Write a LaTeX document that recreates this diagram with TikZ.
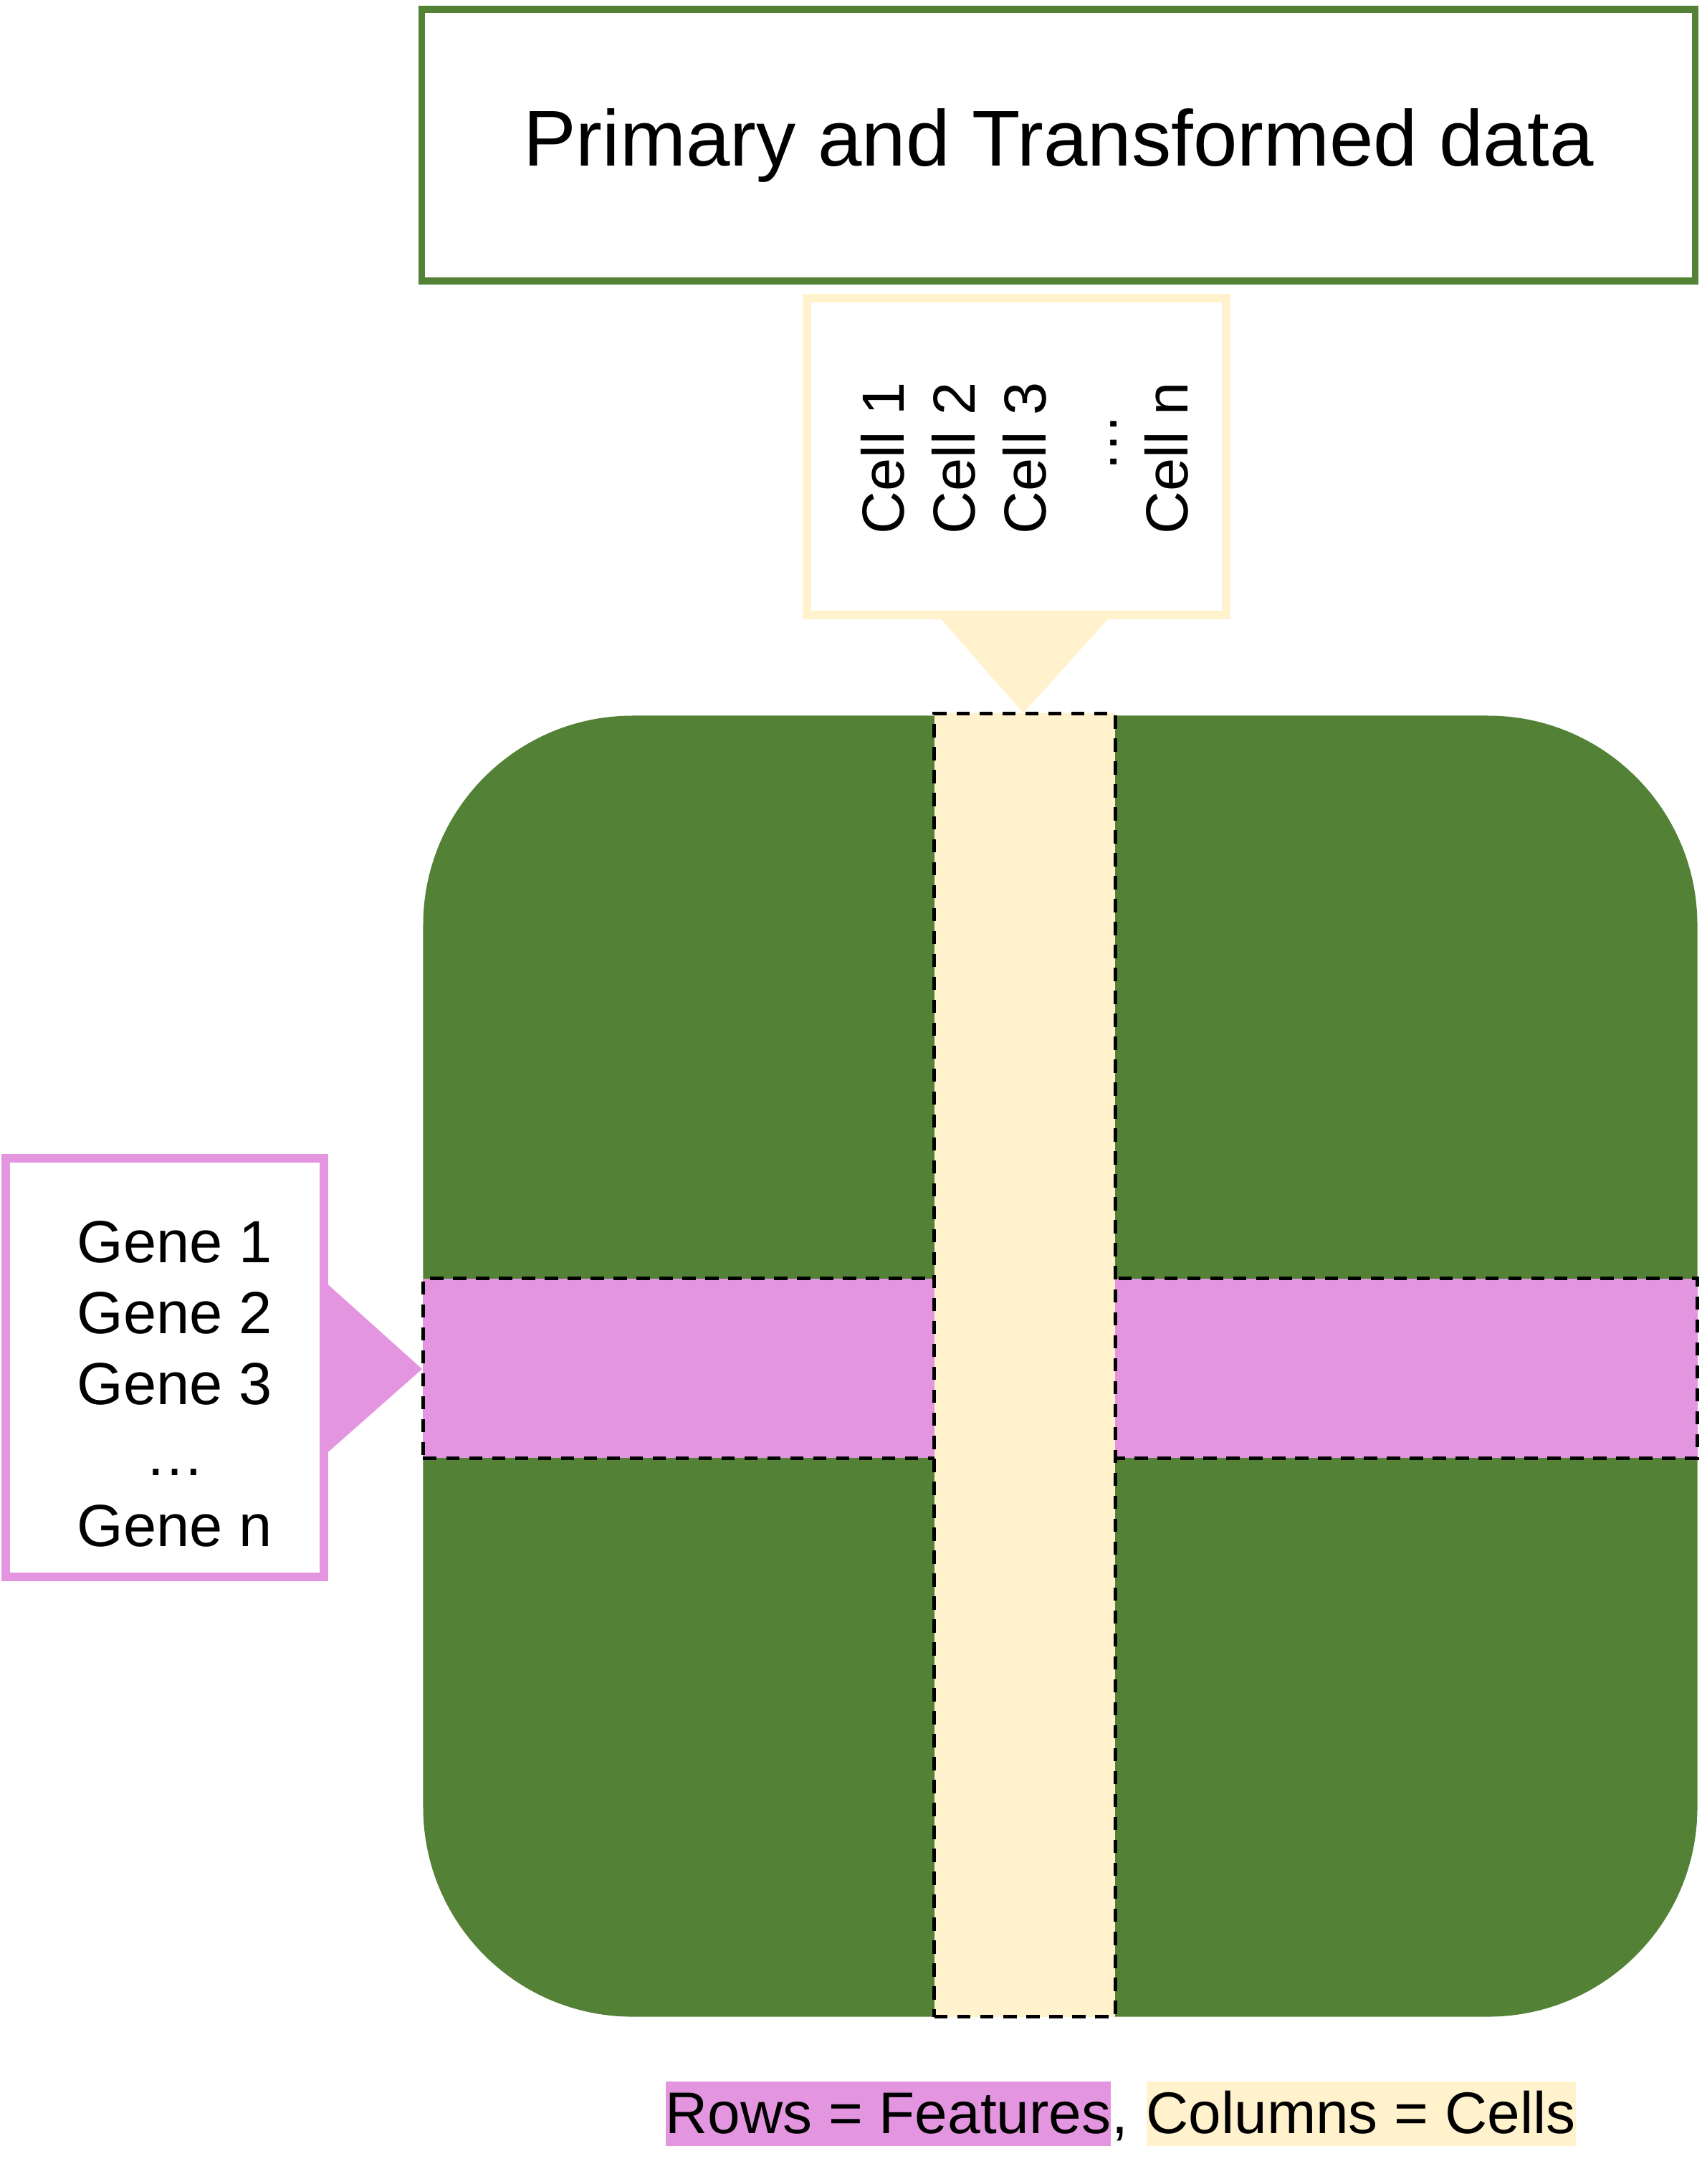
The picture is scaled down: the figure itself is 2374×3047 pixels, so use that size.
\documentclass[tikz,border=0pt]{standalone}
\usepackage{fontspec}
\setmainfont{Liberation Sans}
\definecolor{dgreen}{HTML}{538135}
\definecolor{pinkc}{HTML}{E396DF}
\definecolor{yelc}{HTML}{FFF2CC}
\begin{document}
\begin{tikzpicture}[x=0.01cm,y=-0.01cm,
  dashbox/.style={draw=black,dash pattern=on 0.185cm off 0.135cm,line width=0.05cm,inner sep=0pt},
  txtmid/.style={font=\fontsize{23.6pt}{28.1pt}\selectfont,inner sep=0pt},
  txtleg/.style={font=\fontsize{23.3pt}{28pt}\selectfont,inner xsep=0pt,inner ysep=0pt,text height=0.72cm,text depth=0.18cm},
  callout/.style={line width=0.12cm,fill=white,inner sep=0pt},
 ]
\path[use as bounding box, fill=white] (0,0) rectangle (2374,3047);
% title box
\node[draw=dgreen, line width=0.095cm, inner sep=0pt, minimum width=17.76cm, minimum height=3.79cm,
      font=\fontsize{31.4pt}{37pt}\selectfont] (title) at (1477,202.5) {Primary and Transformed data};
% matrix
\node[fill=dgreen, rounded corners=2.92cm, inner sep=0pt, minimum width=17.77cm, minimum height=18.14cm] (matrix) at (1479.5,1906) {};
\node[dashbox, fill=pinkc, minimum width=17.77cm, minimum height=2.50cm] (row) at (1479.5,1909) {};
\node[dashbox, fill=yelc, minimum width=2.52cm, minimum height=18.17cm] (col) at (1430,1904.5) {};
% cell callout
\fill[yelc] (1308,858) -- (1428,995) -- (1551,858) -- cycle;
\node[callout, draw=yelc, minimum width=5.85cm, minimum height=4.42cm] (cellbox) at (1418.5,637) {};
\node[txtmid, rotate=90, anchor=north west, align=left] (celltxt) at (1201,746)
  {Cell 1\\Cell 2\\Cell 3\\\hspace*{0.86cm}…\\Cell n};
% gene callout
\fill[pinkc] (452,1787) -- (589,1910) -- (452,2031) -- cycle;
\node[callout, draw=pinkc, minimum width=4.44cm, minimum height=5.84cm] (genebox) at (230,1908) {};
\node[txtmid, align=center] (genetxt) at (244,1931)
  {Gene 1\\Gene 2\\Gene 3\\…\\Gene n};
% legend
\node[txtleg, fill=pinkc, anchor=base west] (legrows) at (928,2976) {Rows = Features};
\node[txtleg, anchor=base west] (legcomma) at (legrows.base east) {,};
\node[txtleg, fill=yelc, anchor=base west] (legcols) at (1599,2976) {Columns = Cells};
\end{tikzpicture}
\end{document}
